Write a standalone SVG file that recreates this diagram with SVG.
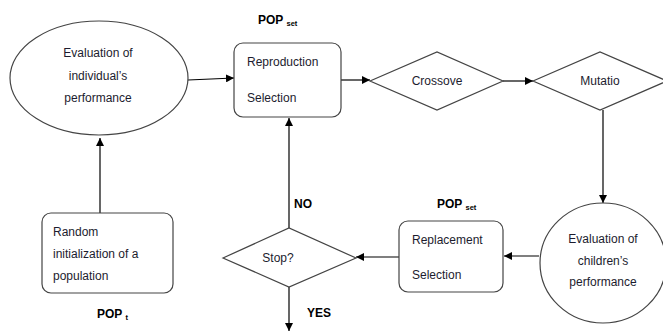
<svg xmlns="http://www.w3.org/2000/svg" width="663" height="331" viewBox="0 0 663 331">
<defs>
<marker id="ah" viewBox="0 0 10 10" refX="10" refY="5" markerWidth="8" markerHeight="8" markerUnits="userSpaceOnUse" orient="auto">
<path d="M0,0 L10,5 L0,10 z" fill="#000"/>
</marker>
</defs>
<style>
.s{fill:#fff;stroke:#444;stroke-width:1.2}
.t{font-family:"Liberation Sans",Arial,sans-serif;font-size:12px;fill:#1c1c2e}
.c{text-anchor:middle}
.b{font-family:"Liberation Sans",Arial,sans-serif;font-size:12px;font-weight:bold;fill:#000}
.sub{font-size:7.5px}
.e{stroke:#000;stroke-width:1.2;fill:none;marker-end:url(#ah)}
</style>
<rect width="663" height="331" fill="#fff"/>
<g id="connectors">
<path class="e" d="M188,80 L234,78"/>
<path class="e" d="M341,80 L370,80"/>
<path class="e" d="M503,81 L533,81"/>
<path class="e" d="M603,110 L603,203"/>
<path class="e" d="M539,256 L504,256"/>
<path class="e" d="M399,257 L356,257"/>
<path class="e" d="M289,228 L289,118"/>
<path class="e" d="M289,287 L289,331"/>
<path class="e" d="M100,213 L100,138"/>
</g>
<g id="eval-individual">
<ellipse class="s" cx="99" cy="78" rx="89" ry="57"/>
<text class="t c" x="98" y="57">Evaluation of</text>
<text class="t c" x="98" y="80">individual’s</text>
<text class="t c" x="98" y="102">performance</text>
</g>
<g id="reproduction">
<rect class="s" x="234" y="43" width="107" height="74" rx="9"/>
<text class="t" x="247" y="66">Reproduction</text>
<text class="t" x="247" y="102">Selection</text>
<text class="b" x="258" y="24">POP <tspan class="sub" dy="2">set</tspan></text>
</g>
<g id="crossover">
<polygon class="s" points="370,81 437,52 503,81 437,110"/>
<text class="t c" x="437" y="85">Crossove</text>
</g>
<g id="mutation">
<polygon class="s" points="533,81 600,52 667,81 600,110"/>
<text class="t c" x="600" y="85">Mutatio</text>
</g>
<g id="eval-children">
<ellipse class="s" cx="603" cy="263" rx="63" ry="60"/>
<text class="t c" x="603" y="243">Evaluation of</text>
<text class="t c" x="603" y="265">children’s</text>
<text class="t c" x="603" y="286">performance</text>
</g>
<g id="replacement">
<rect class="s" x="399" y="221" width="104" height="71" rx="9"/>
<text class="t" x="412" y="244">Replacement</text>
<text class="t" x="412" y="279">Selection</text>
<text class="b" x="437" y="208">POP <tspan class="sub" dy="2">set</tspan></text>
</g>
<g id="stop">
<polygon class="s" points="223,258 289,228 356,258 289,287"/>
<text class="t c" x="278" y="262">Stop?</text>
<text class="b" x="294" y="208">NO</text>
<text class="b" x="307" y="317">YES</text>
</g>
<g id="random-init">
<rect class="s" x="42" y="213" width="131" height="80" rx="9"/>
<text class="t" x="53" y="236">Random</text>
<text class="t" x="53" y="258">initialization of a</text>
<text class="t" x="53" y="280">population</text>
<text class="b" x="97" y="318">POP <tspan class="sub" dy="2">t</tspan></text>
</g>
</svg>
